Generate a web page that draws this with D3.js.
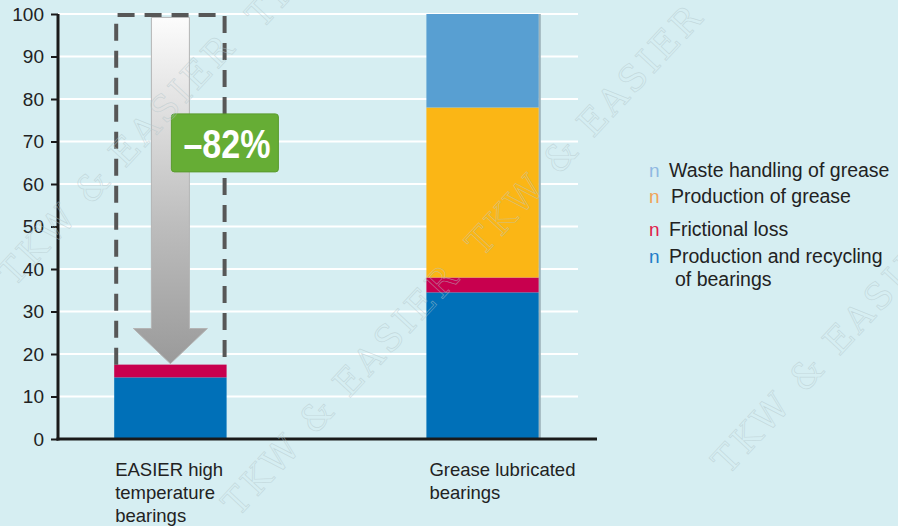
<!DOCTYPE html>
<html>
<head>
<meta charset="utf-8">
<script src="https://cdn.jsdelivr.net/npm/d3@7"></script>
<style>
  html, body { margin: 0; padding: 0; background: #d6eef2; }
  svg { display: block; font-family: "Liberation Sans", Arial, sans-serif; }
</style>
</head>
<body>
<svg id="chart"></svg>
<script>
const categories = ["EASIER", "Grease"];
const categoryLines = [
    ["EASIER high", "temperature", "bearings"],
    ["Grease lubricated", "bearings"]
];
const keys = ["bearings", "friction", "grease", "waste"];
const bearingsVals = [14.5, 34.5];
const frictionVals = [3, 3.5];
const greaseVals = [0, 40];
const wasteVals = [0, 22];
const yTicks = [0, 10, 20, 30, 40, 50, 60, 70, 80, 90, 100];
const legendLines = [
    ["Waste handling of grease"],
    ["Production of grease"],
    ["Frictional loss"],
    ["Production and recycling", "of bearings"]
];
const reductionLabel = "\u201382%";

(() => {
    const width = 898, height = 526;
    const colors = {bearings: "#0070b8", friction: "#c8004e", grease: "#fbb615", waste: "#589fd2"};
    const markColors = ["#8fb8e2", "#f0a35a", "#e0204c", "#1f7cc8"];

    const rows = categories.map((c, i) => ({
        cat: c,
        bearings: bearingsVals[i],
        friction: frictionVals[i],
        grease: greaseVals[i],
        waste: wasteVals[i]
    }));

    const svg = d3.select("#chart").attr("width", width).attr("height", height);
    svg.append("rect").attr("width", width).attr("height", height).attr("fill", "#d6eef2");

    const x = d3.scaleBand().domain(categories).range([58, 595]).paddingInner(0.64).paddingOuter(0.18);
    const y = d3.scaleLinear().domain([0, 100]).range([439, 14]);

    // white grid
    svg.append("g").selectAll("line")
        .data(yTicks.filter(t => t > 0))
        .enter().append("line")
        .attr("x1", 58).attr("x2", 578)
        .attr("y1", d => y(d)).attr("y2", d => y(d))
        .attr("stroke", "#fff").attr("stroke-width", 2);

    // stacked bars
    const series = d3.stack().keys(keys)(rows);
    svg.append("g").selectAll("g")
        .data(series)
        .enter().append("g")
        .attr("fill", d => colors[d.key])
        .selectAll("rect")
        .data(d => d.filter(p => p[1] > p[0]))
        .enter().append("rect")
        .attr("x", d => x(d.data.cat))
        .attr("width", x.bandwidth())
        .attr("y", d => y(d[1]))
        .attr("height", d => y(d[0]) - y(d[1]));

    // slight shadow on the right bar edge
    svg.append("rect")
        .attr("x", x(categories[1]) + x.bandwidth())
        .attr("y", y(100))
        .attr("width", 2)
        .attr("height", y(0) - y(100))
        .attr("fill", "#9fb4bb");

    // arrow + dashed box on first bar
    const defs = svg.append("defs");
    const grad = defs.append("linearGradient").attr("id", "arrowGrad")
        .attr("x1", 0).attr("y1", 0).attr("x2", 0).attr("y2", 1);
    grad.append("stop").attr("offset", "0%").attr("stop-color", "#fcfcfc");
    grad.append("stop").attr("offset", "60%").attr("stop-color", "#bdbdbd");
    grad.append("stop").attr("offset", "100%").attr("stop-color", "#9a9a9a");

    const x0 = x(categories[0]), bw = x.bandwidth();
    const cx = x0 + bw / 2;
    const top1 = y(d3.sum(keys, k => rows[0][k]));
    const shaftW = 38, headW = 74, headTop = y(26);
    const arrow = d3.path();
    arrow.moveTo(cx - shaftW / 2, y(99.2));
    arrow.lineTo(cx + shaftW / 2, y(99.2));
    arrow.lineTo(cx + shaftW / 2, headTop);
    arrow.lineTo(cx + headW / 2, headTop);
    arrow.lineTo(cx, top1 - 1);
    arrow.lineTo(cx - headW / 2, headTop);
    arrow.lineTo(cx - shaftW / 2, headTop);
    arrow.closePath();
    svg.append("path").attr("d", arrow.toString())
        .attr("fill", "url(#arrowGrad)")
        .attr("stroke", "#b4b4b4").attr("stroke-width", 1);

    svg.append("path")
        .attr("d", `M${x0 + 2},${top1}V${y(100) + 1}H${x0 + bw - 2}V${top1}`)
        .attr("fill", "none")
        .attr("stroke", "#575757").attr("stroke-width", 4)
        .attr("stroke-dasharray", "17,10");

    // green badge
    const badge = svg.append("g").attr("transform", `translate(${cx + 1},${y(76.5)})`);
    badge.append("rect").attr("width", 107).attr("height", 58).attr("rx", 3)
        .attr("fill", "#66ad35").attr("stroke", "#5a9b2d").attr("stroke-width", 1);
    badge.append("text")
        .attr("x", 12).attr("y", 44)
        .attr("textLength", 87).attr("lengthAdjust", "spacingAndGlyphs")
        .attr("font-size", 40).attr("font-weight", "bold")
        .attr("fill", "#fff")
        .text(reductionLabel);

    // axes
    const yAxis = svg.append("g").attr("transform", "translate(58,0)")
        .call(d3.axisLeft(y).tickValues(yTicks).tickSize(7).tickPadding(7));
    yAxis.select(".domain").remove();
    yAxis.selectAll(".tick line").attr("stroke", "#1a1a1a").attr("stroke-width", 2);
    yAxis.selectAll(".tick text").attr("font-size", 19).attr("fill", "#222")
        .attr("font-family", "Liberation Sans, Arial, sans-serif");

    svg.append("line").attr("x1", 58).attr("x2", 58).attr("y1", y(100)).attr("y2", y(0) + 1.5)
        .attr("stroke", "#1a1a1a").attr("stroke-width", 3);
    svg.append("line").attr("x1", 56.5).attr("x2", 597).attr("y1", y(0)).attr("y2", y(0))
        .attr("stroke", "#1a1a1a").attr("stroke-width", 3);

    // category labels
    svg.append("g").selectAll("text")
        .data(categories)
        .enter().append("text")
        .attr("x", (d, i) => x(d) + (i === 0 ? 1 : 3))
        .attr("y", 476)
        .attr("font-size", 18.5).attr("fill", "#222")
        .selectAll("tspan")
        .data((d, i) => categoryLines[i])
        .enter().append("tspan")
        .attr("x", function () { return this.parentNode.getAttribute("x"); })
        .attr("dy", (d, j) => j === 0 ? 0 : 23)
        .text(d => d);

    // legend
    const legY = [177, 203, 236, 263];
    const legend = svg.append("g").selectAll("g")
        .data(legendLines)
        .enter().append("g")
        .attr("transform", (d, i) => `translate(649,${legY[i]})`);
    legend.append("text")
        .attr("font-size", 19)
        .attr("fill", (d, i) => markColors[i])
        .text("n");
    legend.append("text")
        .attr("x", (d, i) => i === 1 ? 22 : 20)
        .attr("font-size", 19.5).attr("fill", "#222")
        .selectAll("tspan")
        .data(d => d)
        .enter().append("tspan")
        .attr("x", (d, j) => j === 0 ? null : 26)
        .attr("dy", (d, j) => j === 0 ? 0 : 23)
        .text(d => d);

    // watermark
    const marks = [[14, 288], [482, 258], [238, 518], [728, 476], [262, 30]];
    svg.append("g").attr("pointer-events", "none").selectAll("text")
        .data(marks)
        .enter().append("text")
        .attr("transform", d => `translate(${d[0]},${d[1]}) rotate(-47)`)
        .attr("font-family", "DejaVu Serif, serif")
        .attr("font-size", 36)
        .attr("textLength", 325).attr("lengthAdjust", "spacing")
        .attr("fill", "none")
        .attr("stroke", "#b3c6ca").attr("stroke-width", 0.7).attr("stroke-opacity", 0.55)
        .text("TKW & EASIER");
})();
</script>
</body>
</html>
